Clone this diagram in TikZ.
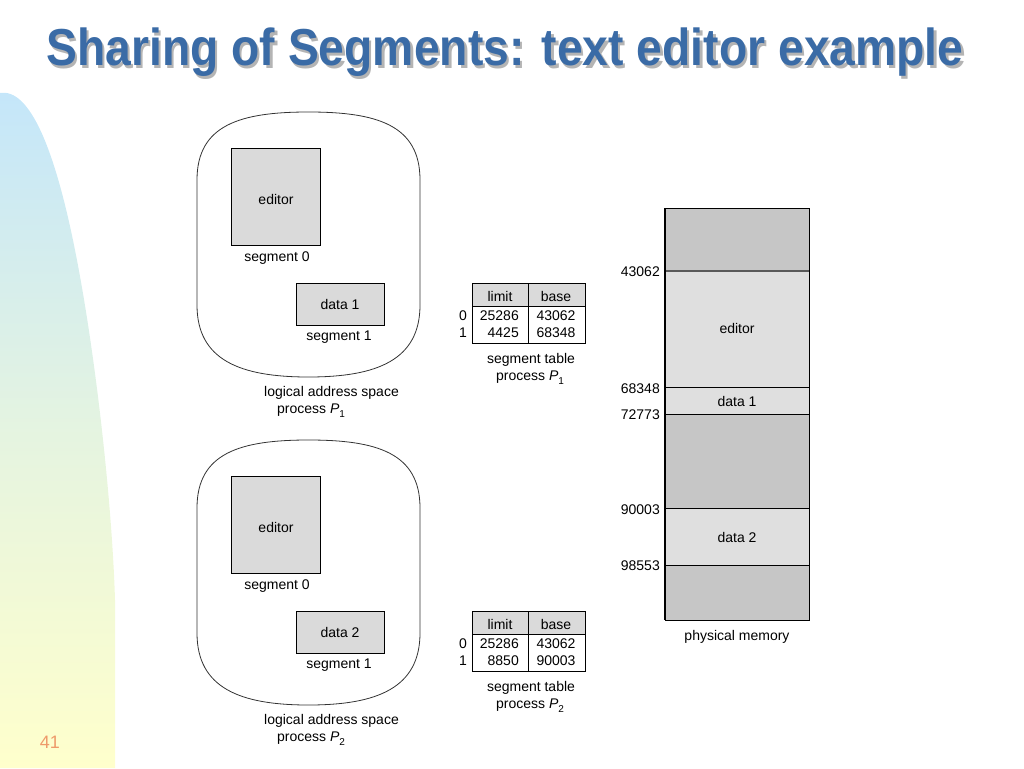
\documentclass[tikz,border=0pt]{standalone}
\usepackage{fontspec}
\setmainfont{Liberation Sans}
\usepackage{graphicx}
\definecolor{titleblue}{HTML}{3A6BA6}
\definecolor{shadowgray}{HTML}{B4B4B4}
\definecolor{boxgray}{HTML}{DADADA}
\definecolor{memdark}{HTML}{C6C6C6}
\definecolor{memlight}{HTML}{DFDFDF}
\definecolor{decoblue}{HTML}{C4E6FA}
\definecolor{decoyellow}{HTML}{FFFFCC}
\definecolor{pagenum}{HTML}{EE9A6A}
\newcommand{\titletext}{Sharing of Segments: text editor example}
\newcommand{\subidx}[1]{\raisebox{-4pt}{\fontsize{10}{10}\selectfont #1}}
\begin{document}
\begin{tikzpicture}[x=1pt,y=-1pt,
  lbl/.style={font=\fontsize{14}{16}\selectfont, inner sep=0pt},
  segbox/.style={draw=black, line width=0.8pt, fill=boxgray},
  thin/.style={line width=0.8pt, draw=black}]
\useasboundingbox (0,0) rectangle (1024,768);
% left decoration
\shade[top color=decoblue, bottom color=decoyellow, middle color=decoblue!45!decoyellow]
  (0,768) -- (0,93) .. controls (30,88) and (55,150) .. (75,250)
  .. controls (95,350) and (112,500) .. (115,600) -- (115,768) -- cycle;
\node[font=\fontsize{18}{20}\selectfont, text=pagenum, inner sep=0pt] (pnum) at (50,742) {41};
% title with shadow
\node[inner sep=0pt, anchor=base] (title) at (505,65.5)
  {\scalebox{0.89}[1]{\fontsize{52}{60}\selectfont\bfseries
   \makebox[0pt][l]{\raisebox{-2.5pt}{\hspace{2.5pt}\color{shadowgray}\titletext}}%
   \color{titleblue}\titletext}};
% processes
\foreach \i/\dy/\lim/\base in {1/0/4425/68348, 2/328/8850/90003}{
  \begin{scope}[shift={(0,\dy)}]
    \draw[line width=0.8pt, draw=black!80] (197,180) .. controls (197,125) and (240,112) .. (308.5,112)
      .. controls (377,112) and (420,125) .. (420,180) -- (420,305)
      .. controls (420,360) and (377,377) .. (308.5,377)
      .. controls (240,377) and (197,360) .. (197,305) -- cycle;
    \draw[segbox] (231,148) rectangle (320,245);
    \node[lbl] (ed\i) at (276,199) {editor};
    \node[lbl] (s0\i) at (277,258) {segment 0};
    \draw[segbox] (296,283) rectangle (384,325);
    \node[lbl] (dt\i) at (340,304) {data \i};
    \node[lbl] (s1\i) at (339,337) {segment 1};
    \node[lbl, anchor=west] (las\i) at (264,393) {logical address space};
    \node[lbl, anchor=west] (pr\i) at (277,411) {process \textit{P}\subidx{\i}};
    % segment table
    \fill[boxgray] (472,283) rectangle (585,306);
    \draw[thin] (472,283) rectangle (585,343);
    \draw[thin] (472,306) -- (585,306);
    \draw[thin] (528,283) -- (528,343);
    \node[lbl] (lh\i) at (500,296) {limit};
    \node[lbl] (bh\i) at (556,296) {base};
    \node[lbl] (r0\i) at (463,316) {0};
    \node[lbl] (r1\i) at (463,333) {1};
    \node[lbl, anchor=east] (l0\i) at (519,316) {25286};
    \node[lbl, anchor=east] (l1\i) at (519,333) {\lim};
    \node[lbl] (b0\i) at (556,316) {43062};
    \node[lbl] (b1\i) at (556,333) {\base};
    \node[lbl] (st\i) at (531,360) {segment table};
    \node[lbl] (sp\i) at (530,378) {process \textit{P}\subidx{\i}};
  \end{scope}
}
% physical memory
\fill[memdark] (665,208) rectangle (809,620);
\fill[memlight] (665,271) rectangle (809,414);
\fill[memlight] (665,508) rectangle (809,565);
\draw[thin] (665,208) rectangle (809,620);
\draw[line width=1.6pt, draw=black!65] (665,271) -- (809,271);
\draw[thin] (665,387) -- (809,387);
\draw[thin] (665,414) -- (809,414);
\draw[thin] (665,508) -- (809,508);
\draw[thin] (665,565) -- (809,565);
\draw[line width=1.6pt] (665,208) -- (665,620);
\node[lbl] (med) at (737,328) {editor};
\node[lbl] (md1) at (737,401) {data 1};
\node[lbl] (md2) at (737,537) {data 2};
\node[lbl, anchor=east] (a1) at (660,272) {43062};
\node[lbl, anchor=east] (a2) at (660,389) {68348};
\node[lbl, anchor=east] (a3) at (660,415) {72773};
\node[lbl, anchor=east] (a4) at (660,510) {90003};
\node[lbl, anchor=east] (a5) at (660,566) {98553};
\node[lbl] (pm) at (737,637) {physical memory};
\end{tikzpicture}
\end{document}
